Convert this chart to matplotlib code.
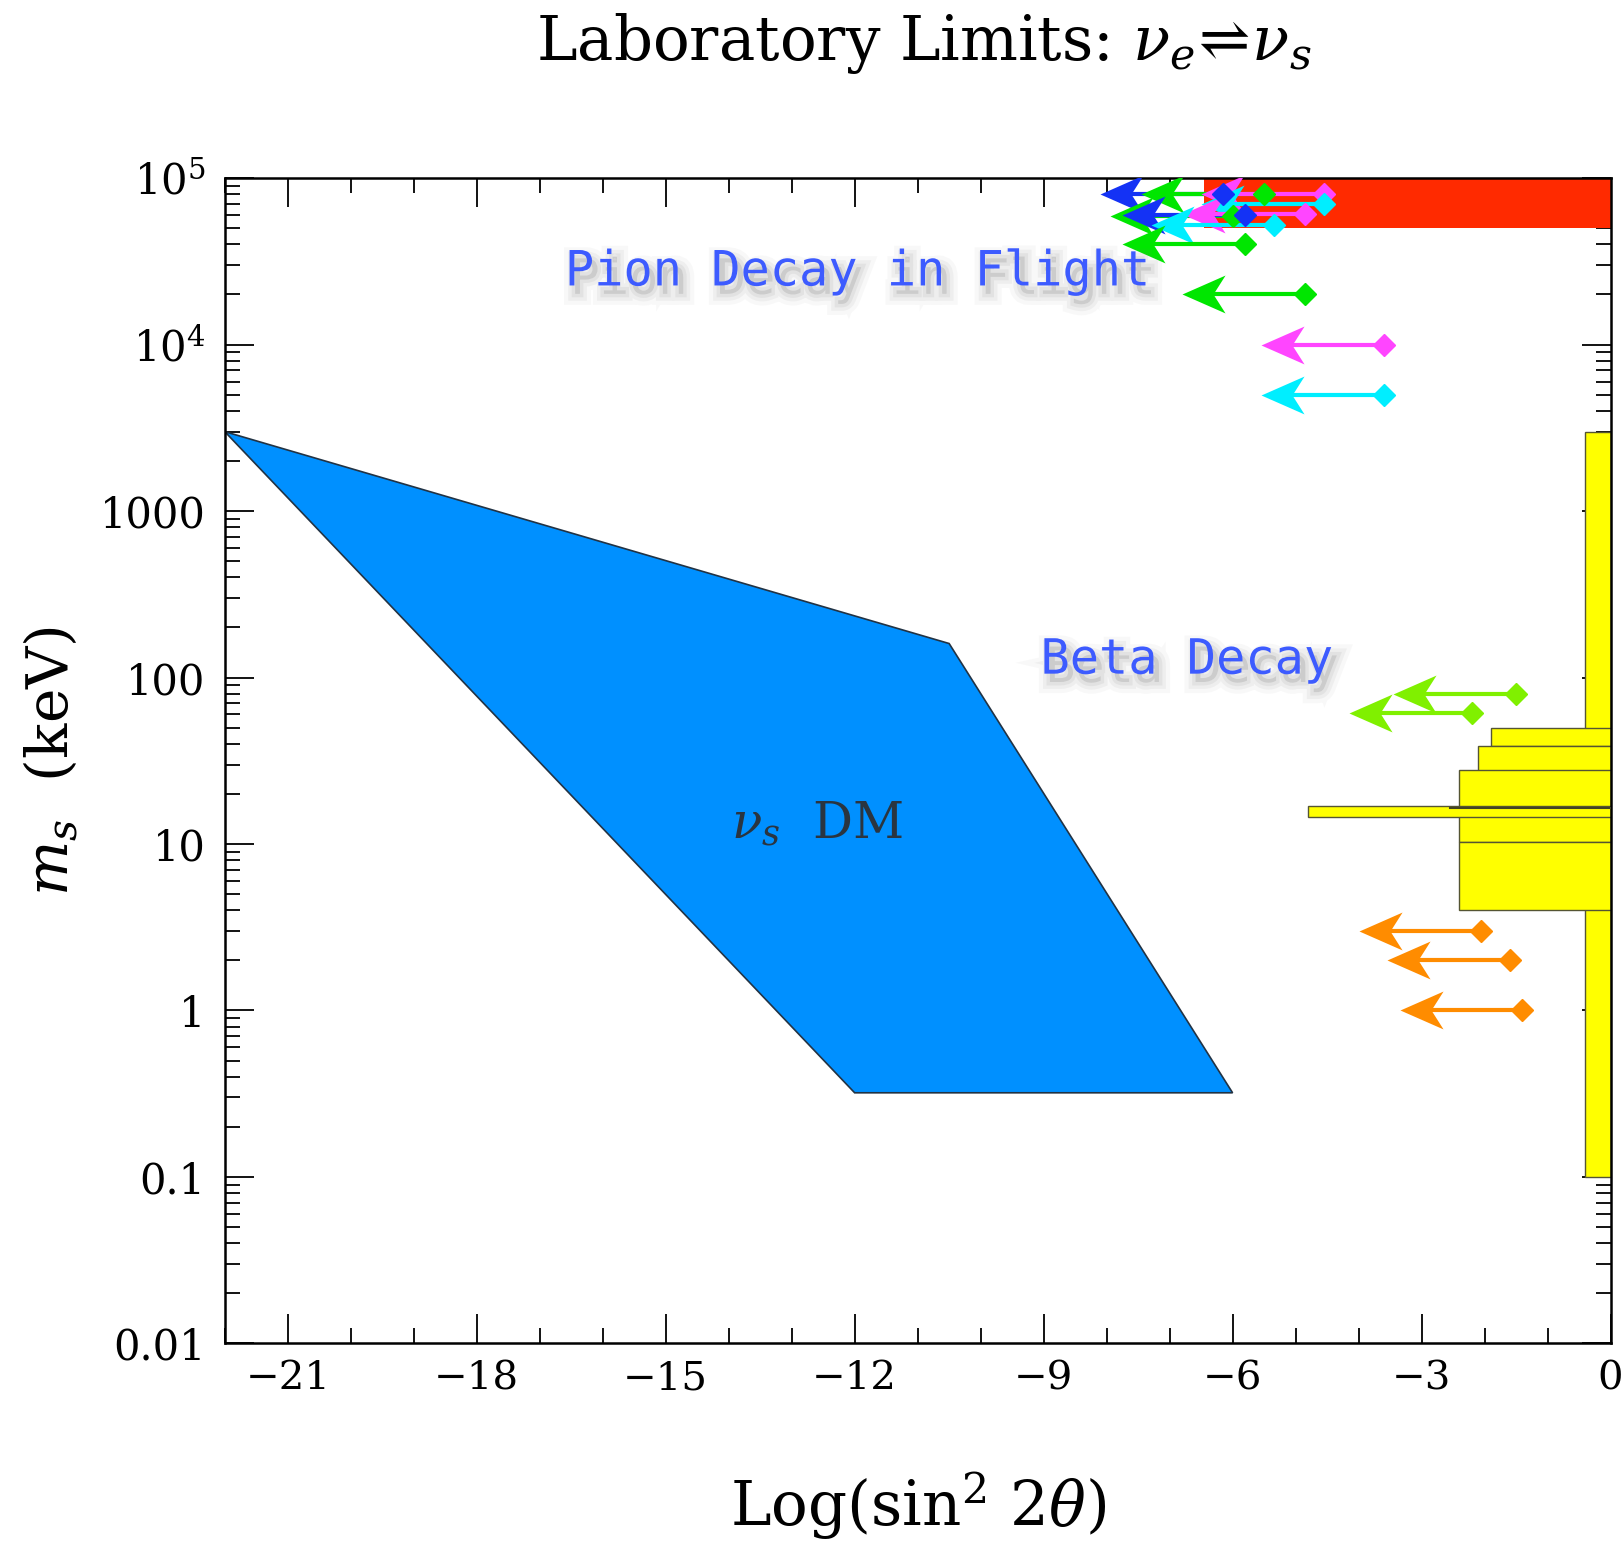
import numpy as np
import matplotlib
matplotlib.use('Agg')
import matplotlib.pyplot as plt
import matplotlib.patheffects as pe
from matplotlib.patches import Polygon, Rectangle
from matplotlib.path import Path
from matplotlib.ticker import FixedLocator, LogLocator, FuncFormatter

# sterile neutrino DM region (log sin^2 2theta, m_s in keV)
dm_x = [-22.0, -10.5, -6.0, -12.0]
dm_y = [3000, 160, 0.32, 0.32]

# pion decay in flight excluded band
pion_x = [-6.45, 0.0]
pion_y = [5e4, 1e5]

# beta decay excluded boxes: (x_left, y_low, y_high)
beta_x = [-0.4, -1.9, -2.1, -2.4, -2.4, -4.8]
beta_lo = [0.1, 39, 25, 10.3, 4.0, 14.5]
beta_hi = [3000, 50, 39, 28, 10.3, 17.0]

# upper-limit arrows: limit on x, mass, colour
lim_x = [-6.15, -5.5, -4.55, -4.55, -6.0, -5.8, -4.85, -5.35, -5.8, -4.85, -3.6, -3.6,
         -1.5, -2.2, -2.05, -1.6, -1.4]
lim_y = [80000, 80000, 80000, 70000, 59000, 60000, 61000, 52000, 40000, 20000, 10000, 5000,
         80, 61, 3.0, 2.0, 1.0]
lim_c = ['#1432f5', '#00e600', '#ff45ff', '#00eeff', '#00e600', '#1432f5', '#ff45ff', '#00eeff',
         '#00e600', '#00e600', '#ff45ff', '#00eeff',
         '#80f000', '#80f000', '#ff8c00', '#ff8c00', '#ff8c00']
arrow_len = 1.95

# barbed arrow head, tip at origin pointing left
head = Path([(0, 0), (1, 0.44), (0.72, 0), (1, -0.44), (0, 0)],
            [Path.MOVETO, Path.LINETO, Path.LINETO, Path.LINETO, Path.CLOSEPOLY])

serif = ['DejaVu Serif']
plt.rcParams['mathtext.fontset'] = 'dejavuserif'

fig = plt.figure(figsize=(16.24, 15.53), dpi=100)
ax = fig.add_axes([0.1384, 0.135, 0.8533, 0.7503])
ax.set_yscale('log')
ax.set_xlim(-22, 0)
ax.set_ylim(0.01, 1e5)

ax.add_patch(Polygon(list(zip(dm_x, dm_y)), closed=True, facecolor='#0090ff',
                     edgecolor='#223344', linewidth=1.2, zorder=2))

ax.add_patch(Rectangle((pion_x[0], pion_y[0]), pion_x[1] - pion_x[0], pion_y[1] - pion_y[0],
                       facecolor='#ff2a00', edgecolor='none', zorder=2))

for xl, lo, hi in zip(beta_x, beta_lo, beta_hi):
    ax.add_patch(Rectangle((xl, lo), -xl, hi - lo, facecolor='#ffff00',
                           edgecolor='#555533', linewidth=1.0, zorder=2))
ax.plot([-2.55, 0], [16.5, 16.5], color='#444422', lw=1.5, zorder=3)

for xv, yv, c in zip(lim_x, lim_y, lim_c):
    ax.plot([xv - arrow_len + 0.3, xv], [yv, yv], color=c, lw=3, zorder=4)
    ax.plot([xv - arrow_len], [yv], marker=head, ms=62, color=c, mec=c, mew=0, zorder=4)
    ax.plot([xv], [yv], marker='D', ms=11, color=c, mec=c, zorder=5)

shadow = [pe.PathPatchEffect(offset=(4, -6), facecolor='gray', edgecolor='gray',
                             linewidth=16, alpha=0.05),
          pe.PathPatchEffect(offset=(4, -6), facecolor='gray', edgecolor='gray',
                             linewidth=10, alpha=0.08),
          pe.PathPatchEffect(offset=(4, -6), facecolor='gray', edgecolor='gray',
                             linewidth=5, alpha=0.10),
          pe.Normal()]
ax.text(-16.6, 27500, 'Pion Decay in Flight', family='DejaVu Sans Mono', fontsize=35,
        color='#3d5bff', ha='left', va='center', zorder=6, path_effects=shadow)
ax.text(-9.05, 128, 'Beta Decay', family='DejaVu Sans Mono', fontsize=35,
        color='#3d5bff', ha='left', va='center', zorder=6, path_effects=shadow)
ax.text(-12.6, 13, r'$\nu_s$  DM', family=serif, fontsize=36, color='#2a3540',
        ha='center', va='center', zorder=6)

# ticks
ax.xaxis.set_major_locator(FixedLocator([-21, -18, -15, -12, -9, -6, -3, 0]))
ax.xaxis.set_minor_locator(FixedLocator(np.arange(-22, 1, 1)))
ax.xaxis.set_major_formatter(FuncFormatter(lambda v, p: f'{int(v)}'.replace('-', '\u2212')))
ax.yaxis.set_major_locator(LogLocator(base=10, numticks=20))
ax.yaxis.set_minor_locator(LogLocator(base=10, subs=np.arange(2, 10), numticks=20))
ylab = {1e5: r'$10^5$', 1e4: r'$10^4$', 1e3: '1000', 1e2: '100', 10: '10', 1: '1',
        0.1: '0.1', 0.01: '0.01'}
ax.yaxis.set_major_formatter(FuncFormatter(
    lambda v, p: ylab.get(float(f'{v:.3g}'), '')))
ax.tick_params(which='both', direction='in', top=True, right=True, width=1.3)
ax.tick_params(which='major', length=21)
ax.tick_params(which='minor', length=11)
ax.tick_params(axis='x', pad=12, labelsize=29)
ax.tick_params(axis='y', pad=14, labelsize=30)
for lbl in ax.get_xticklabels() + ax.get_yticklabels():
    lbl.set_family(serif)
for s in ax.spines.values():
    s.set_linewidth(1.8)

ax.set_xlabel(r'Log(sin$^2$ 2$\theta$)', family=serif, fontsize=44, labelpad=52)
ax.set_ylabel(r'$m_s$  (keV)', family=serif, fontsize=42, labelpad=14)
fig.text(0.569, 0.972, r'Laboratory Limits: $\nu_e\!\rightleftharpoons\!\nu_s$',
         family=serif, fontsize=44, ha='center', va='center')

fig.savefig('out.png', dpi=100, facecolor='white')
